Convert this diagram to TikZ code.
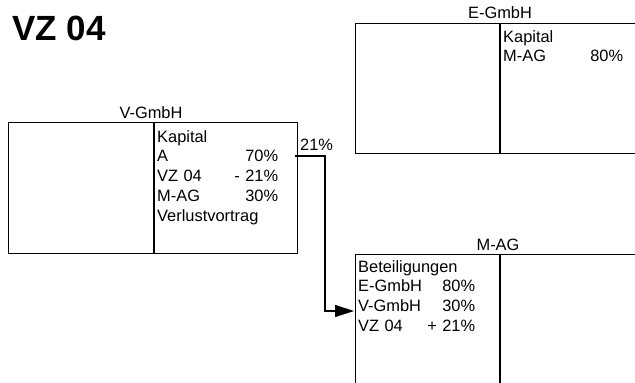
\documentclass[tikz,border=0pt]{standalone}
\usepackage{fontspec}
\setmainfont{Liberation Sans}
\usetikzlibrary{arrows.meta,positioning}

\begin{document}
\begin{tikzpicture}[x=1pt, y=-1pt, font=\fontsize{16.4}{19.8}\selectfont,
    konto/.style={draw, line width=0.8pt, inner sep=0pt, minimum width=290pt, minimum height=131pt},
    teil/.style={line width=1.4pt},
    eintrag/.style={anchor=base west, inner sep=0pt, align=left},
    titel/.style={anchor=base, inner sep=0pt}]

    % page size and cut-off at the edges
    \useasboundingbox (0,0) rectangle (635,383);
    \clip (0,0) rectangle (635,383);

    % 1. Heading
    \node[anchor=base west, inner sep=0pt, font=\fontsize{35}{40}\selectfont\bfseries] (kopf) at (12,40) {VZ 04};

    % 2. V-GmbH (T-account)
    \node[konto, minimum width=289pt] (vg) at (152.5,187.5) {};
    \draw[teil] (154,122) -- (154,253);
    \node[titel] (vgtitel) at (151,118) {V-GmbH};
    \node[eintrag, text width=121pt] (vgtext) at (157,142)
        {Kapital\\ A\hfill 70\%\\ VZ 04\hfill - 21\%\\ M-AG\hfill 30\%\\ Verlustvortrag};

    % 3. E-GmbH
    \node[konto, minimum height=130pt] (eg) at (500,88) {};
    \draw[teil] (500,23) -- (500,153);
    \node[titel] (egtitel) at (500,18) {E-GmbH};
    \node[eintrag, text width=120pt] (egtext) at (503,42)
        {Kapital\\ M-AG\hfill 80\%};

    % 4. M-AG
    \node[konto, minimum height=130pt] (mag) at (500,319) {};
    \draw[teil] (500,254) -- (500,384);
    \node[titel] (magtitel) at (498,250) {M-AG};
    \node[eintrag, text width=117pt] (magtext) at (358,272)
        {Beteiligungen\\ E-GmbH\hfill 80\%\\ V-GmbH\hfill 30\%\\ VZ 04\hfill + 21\%};

    % 5. Transfer of the 21% share
    \coordinate (von) at (295,156);
    \coordinate (nach) at (354,311);
    \node[anchor=base west, inner sep=0pt] (anteil) at (300,150) {21\%};
    \draw[line width=1.2pt, -{Triangle[length=19pt, width=12pt]}] (von) -- ++(30,0) |- (nach);

\end{tikzpicture}
\end{document}
